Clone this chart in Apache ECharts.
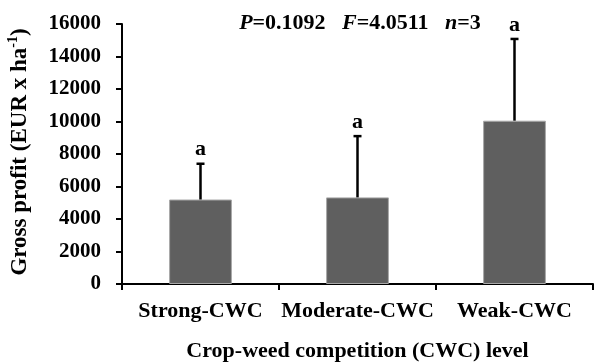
<!DOCTYPE html>
<html><head><meta charset="utf-8">
<script src="https://cdn.jsdelivr.net/npm/echarts@6/dist/echarts.min.js"></script>
<style>html,body{margin:0;padding:0;background:#fff}#c{width:594px;height:363px}</style>
</head><body><div id="c"></div>
<script>
const categories = ['Strong-CWC', 'Moderate-CWC', 'Weak-CWC'];
const means = [5200, 5330, 10050];
const sds = [2200, 3770, 5030];
const letters = ['a', 'a', 'a'];
const yTicks = [0, 2000, 4000, 6000, 8000, 10000, 12000, 14000, 16000];

const FONT = '"Liberation Serif", "Times New Roman", serif';
const chart = echarts.init(document.getElementById('c'));
const errData = categories.map((c, i) => [i, means[i], means[i] + sds[i]]);
chart.setOption({
  animation: false,
  grid: { left: 122, right: 1, top: 24, bottom: 79, outerBoundsMode: 'none', containLabel: false },
  xAxis: {
    type: 'category', data: categories,
    axisLine: { lineStyle: { color: '#000', width: 2 } },
    axisTick: { show: true, length: 6, lineStyle: { color: '#000', width: 2 } },
    axisLabel: { color: '#000', fontFamily: FONT, fontWeight: 'bold', fontSize: 22, margin: 16, interval: 0, hideOverlap: false },
    name: 'Crop-weed competition (CWC) level', nameLocation: 'middle', nameGap: 56,
    nameTextStyle: { color: '#000', fontFamily: FONT, fontWeight: 'bold', fontSize: 22 }
  },
  yAxis: {
    type: 'value', min: yTicks[0], max: yTicks[yTicks.length - 1], interval: 2000,
    splitLine: { show: false },
    axisLine: { show: true, lineStyle: { color: '#000', width: 2 } },
    axisTick: { show: true, length: 6, lineStyle: { color: '#000', width: 2 } },
    axisLabel: { color: '#000', fontFamily: FONT, fontWeight: 'bold', fontSize: 21, margin: 21,
      formatter: function (v) { return String(v); } }
  },
  graphic: [
    {
      type: 'text', x: 20, y: 152, rotation: Math.PI / 2,
      style: {
        text: '{n|Gross profit (EUR x ha}{s|-1}{n|)}',
        align: 'center', verticalAlign: 'middle',
        rich: {
          n: { fontFamily: FONT, fontWeight: 'bold', fontSize: 23, fill: '#000' },
          s: { fontFamily: FONT, fontWeight: 'bold', fontSize: 14, fill: '#000', verticalAlign: 'top', lineHeight: 28 }
        }
      }
    },
    {
      type: 'text', x: 360, y: 23,
      style: {
        text: '{i|P}{n|=0.1092   }{i|F}{n|=4.0511   }{i|n}{n|=3}',
        align: 'center', verticalAlign: 'middle',
        rich: {
          i: { fontFamily: FONT, fontWeight: 'bold', fontStyle: 'italic', fontSize: 22, fill: '#000' },
          n: { fontFamily: FONT, fontWeight: 'bold', fontSize: 22, fill: '#000' }
        }
      }
    }
  ],
  series: [
    {
      type: 'bar', data: means, barWidth: '40%',
      itemStyle: { color: '#5f5f5f', borderColor: '#a8a8a8', borderWidth: 1 }
    },
    {
      type: 'custom', data: errData, z: 10,
      renderItem: function (params, api) {
        const i = api.value(0);
        const base = api.coord([i, api.value(1)]);
        const top = api.coord([i, api.value(2)]);
        const x = base[0];
        return {
          type: 'group', children: [
            { type: 'line', shape: { x1: x, y1: base[1], x2: x, y2: top[1] }, style: { stroke: '#000', lineWidth: 2.5 } },
            { type: 'line', shape: { x1: x - 4, y1: top[1], x2: x + 4, y2: top[1] }, style: { stroke: '#000', lineWidth: 2.5 } },
            { type: 'text', x: x, y: top[1] - 3, style: { text: letters[i], align: 'center', verticalAlign: 'bottom', fontFamily: FONT, fontWeight: 'bold', fontSize: 22, fill: '#000' } }
          ]
        };
      }
    }
  ]
});
</script></body></html>
